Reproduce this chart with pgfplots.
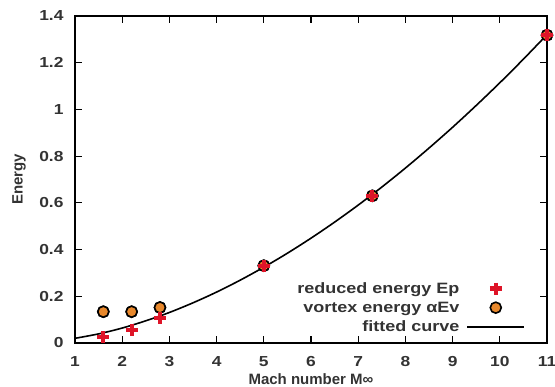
\documentclass[border=0pt]{standalone}
\usepackage{pgfplots}
\pgfplotsset{compat=1.18}
\usepackage{fontspec}
\setmainfont{Liberation Sans}[BoldFont={Liberation Sans Bold}]
\newfontfamily\wide{Liberation Sans}[BoldFont={Liberation Sans Bold}, FakeStretch=1.2]

\definecolor{txtgray}{RGB}{51,51,51}
\definecolor{crossred}{RGB}{222,20,40}
\definecolor{dotorange}{RGB}{232,136,44}

% legend sample: single mark centred on a 57pt slot
\pgfplotsset{markleg/.style={legend image code/.code={%
  \draw[mark repeat=2,mark phase=2,##1] plot coordinates {(0pt,0pt) (28.5pt,0pt) (57pt,0pt)};}}}

% energy measurements
\pgfplotstableread{
M     Ep
1.6   0.025
2.2   0.055
2.8   0.108
5.0   0.331
7.3   0.630
11.0  1.318
}\reduced

\pgfplotstableread{
M     Ev
1.6   0.134
2.2   0.134
2.8   0.152
5.0   0.331
7.3   0.630
11.0  1.318
}\vortex

% power-law fit sampled along the Mach range
\pgfplotstableread{
M     E
1.0   0.0200
1.5   0.0390
2.0   0.0640
2.5   0.0950
3.0   0.1307
3.5   0.1720
4.0   0.2180
4.5   0.2690
5.0   0.3245
5.5   0.3844
6.0   0.4488
6.5   0.5175
7.0   0.5904
7.5   0.6675
8.0   0.7489
8.5   0.8345
9.0   0.9236
9.5   1.0170
10.0  1.1140
10.5  1.2152
11.0  1.3202
}\fit

\begin{document}
\begin{tikzpicture}[x=1pt,y=1pt]
\begin{axis}[
  at={(0pt,0pt)}, anchor=south west,
  scale only axis,
  width=472pt, height=327pt,
  xmin=1, xmax=11, ymin=0, ymax=1.4,
  xtick={1,2,...,11},
  ytick={0,0.2,...,1.4},
  yticklabels={0,0.2,0.4,0.6,0.8,1,1.2,1.4},
  tick align=inside,
  major tick length=7pt,
  axis line style={line width=1.3pt, black},
  every tick/.style={line width=1.1pt, black},
  /pgf/number format/assume math mode=true,
  ticklabel style={font=\fontsize{14.5}{17}\wide\bfseries, text=txtgray},
  xticklabel style={yshift=-10pt},
  yticklabel style={xshift=-8pt},
  xlabel={Mach number M∞},
  ylabel={Energy},
  every axis x label/.style={at={(axis description cs:0.5,-0.128)}, anchor=base,
    inner sep=0pt, font=\fontsize{15}{17}\selectfont\bfseries, text=txtgray},
  every axis y label/.style={at={(axis description cs:-0.1186,0.5)}, rotate=90,
    anchor=center, font=\fontsize{15}{17}\selectfont\bfseries, text=txtgray},
  legend style={draw=none, fill=none, at={(0.954,0.024)}, anchor=south east,
    font=\fontsize{15}{17}\wide\bfseries, text=txtgray,
    row sep=3pt, inner sep=0pt, column sep=5pt},
  legend cell align=right,
  legend plot pos=right,
]
\addplot[only marks, mark=*, mark size=5.5pt, draw=black, line width=1.6pt,
  fill=dotorange, forget plot] table[x=M, y=Ev] {\vortex};
\addplot[only marks, mark=+, mark size=6pt, line width=4.2pt, color=crossred, markleg]
  table[x=M, y=Ep] {\reduced};
\addlegendentry{reduced energy Ep}
\addplot[only marks, mark=*, mark size=5.5pt, draw=black, line width=1.6pt,
  fill=dotorange, markleg]
  table[x=M, y=Ev] {\vortex};
\addlegendentry{vortex energy αEv}
\addplot[smooth, line width=1.6pt, black, no marks,
  legend image code/.code={\draw[line width=1.6pt,black] (0pt,0pt) -- (57pt,0pt);}]
  table[x=M, y=E] {\fit};
\addlegendentry{fitted curve}
\addplot[only marks, mark=+, mark size=6pt, line width=4.2pt, color=crossred, forget plot]
  table[x=M, y=Ep] {\reduced};
\end{axis}
\pgfresetboundingbox
\path (-75pt,-44pt) rectangle (480pt,343pt);
\end{tikzpicture}
\end{document}
